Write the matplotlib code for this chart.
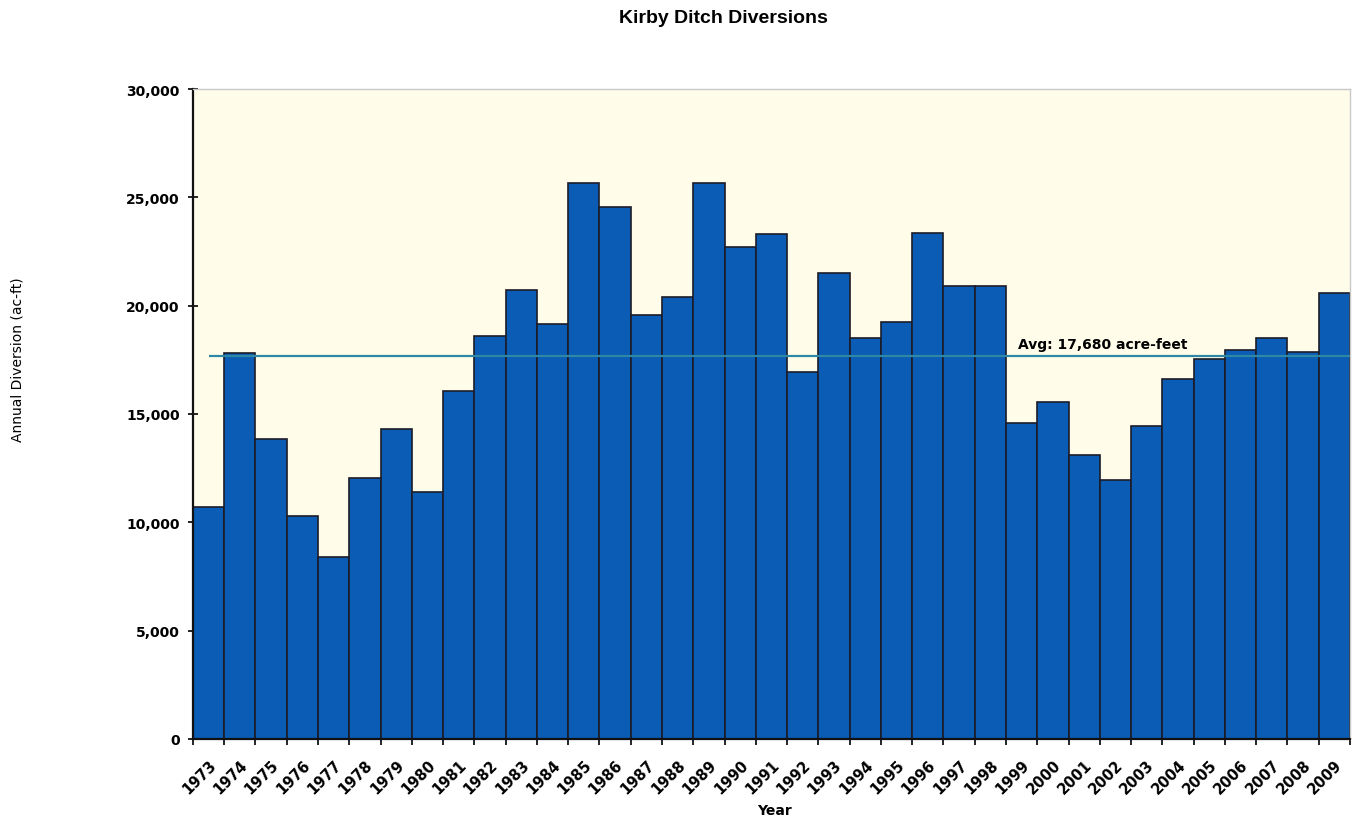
import matplotlib.pyplot as plt
import numpy as np

years = list(range(1973, 2010))
diversions = [10700, 17800, 13850, 10300, 8400, 12050, 14300, 11400, 16050, 18600,
              20700, 19150, 25650, 24550, 19550, 20400, 25650, 22700, 23300, 16950,
              21500, 18500, 19250, 23350, 20900, 20900, 14600, 15550, 13100, 11950,
              14450, 16600, 17550, 17950, 18500, 17850, 20600]
avg_value = 17680
avg_label = 'Avg: 17,680 acre-feet'

fig = plt.figure(figsize=(13.54, 8.28), dpi=100)
ax = fig.add_axes([0.1425, 0.1063, 0.8545, 0.785])
ax.set_facecolor('#FFFDEA')

x = np.arange(len(years))
ax.bar(x, diversions, width=1.0, color='#0B5CB5', edgecolor='#1c1c28', linewidth=1.2, zorder=2)

# average line, drawn over the bars
ax.hlines(avg_value, 0, len(years) - 0.5, color='#2F87A6', linewidth=1.6, zorder=3)
ax.text(25.9, avg_value + 250, avg_label, fontsize=10, fontweight='bold', ha='left', va='bottom', zorder=4)

ax.set_xlim(-0.5, len(years) - 0.5)
ax.set_ylim(0, 30000)
ax.set_yticks(range(0, 30001, 5000))
ax.set_yticklabels([f'{v:,}' for v in range(0, 30001, 5000)], fontsize=10, fontweight='bold')
ax.tick_params(axis='y', direction='inout', length=7, width=1.2, pad=6)

ax.set_xticks(x)
ax.set_xticklabels([str(y) for y in years], rotation=45, ha='right', rotation_mode='anchor',
                   fontsize=10.5, fontweight='bold')
ax.tick_params(axis='x', which='major', length=0, pad=13)
ax.set_xticks(np.arange(-0.5, len(years), 1.0), minor=True)
ax.tick_params(axis='x', which='minor', direction='inout', length=8, width=1.2)

for side in ['left', 'bottom']:
    ax.spines[side].set_color('#111111')
    ax.spines[side].set_linewidth(1.6)
for side in ['top', 'right']:
    ax.spines[side].set_color('#c8c8c8')
    ax.spines[side].set_linewidth(1.0)

fig.text(0.534, 0.978, 'Kirby Ditch Diversions', fontsize=14, fontweight='bold',
         family='Liberation Sans', ha='center', va='center')
fig.text(0.572, 0.012, 'Year', fontsize=10, fontweight='bold', ha='center', va='bottom')
fig.text(0.013, 0.565, 'Annual Diversion (ac-ft)', fontsize=10, rotation=90, ha='center', va='center')

fig.savefig('out.png', dpi=100)
